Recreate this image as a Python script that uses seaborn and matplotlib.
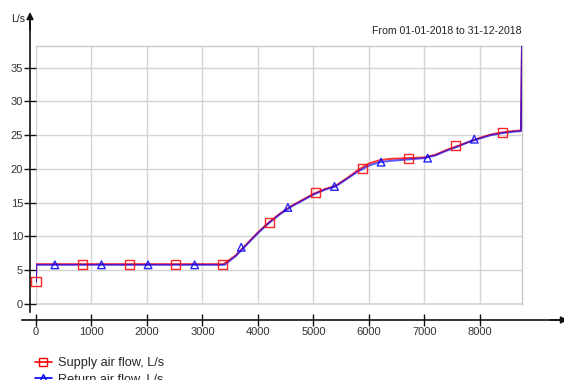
import matplotlib
matplotlib.use("Agg")
import matplotlib.pyplot as plt
import seaborn as sns
import pandas as pd
from matplotlib.lines import Line2D

# ---- data (duration curves, hours sorted) ----
supply_hours = [0, 5, 3380, 3600, 3800, 4000, 4200, 4400, 4600, 4800, 5000, 5200, 5400,
                5600, 5800, 6000, 6200, 6400, 6700, 7000, 7200, 7400, 7600, 7800, 8000,
                8200, 8400, 8600, 8740, 8745, 8760]
supply_flow = [3.3, 5.9, 5.9, 7.2, 8.9, 10.6, 12.1, 13.4, 14.5, 15.4, 16.3, 17.0, 17.5,
               18.6, 19.8, 20.8, 21.3, 21.5, 21.6, 21.7, 22.1, 22.8, 23.4, 24.0, 24.6,
               25.1, 25.4, 25.6, 25.7, 28.4, 38.5]
return_hours = [0, 5, 3400, 3600, 3800, 4000, 4200, 4400, 4600, 4800, 5000, 5200, 5400,
                5600, 5800, 6000, 6200, 6400, 6700, 7000, 7200, 7400, 7600, 7800, 8000,
                8200, 8400, 8600, 8740, 8760]
return_flow = [3.3, 5.8, 5.8, 7.1, 8.8, 10.5, 12.0, 13.3, 14.4, 15.3, 16.2, 16.9, 17.4,
               18.5, 19.6, 20.5, 21.0, 21.2, 21.4, 21.6, 22.0, 22.7, 23.3, 24.0, 24.5,
               25.0, 25.3, 25.5, 25.6, 38.5]
supply_marker_hours = [0, 840, 1680, 2520, 3360, 4200, 5040, 5880, 6720, 7560, 8400]
supply_marker_flow = [3.3, 5.9, 5.9, 5.9, 5.9, 12.0, 16.5, 20.1, 21.6, 23.4, 25.4]
return_marker_hours = [340, 1180, 2020, 2860, 3700, 4540, 5380, 6220, 7060, 7900]
return_marker_flow = [5.8, 5.8, 5.8, 5.8, 8.4, 14.3, 17.4, 21.0, 21.6, 24.4]

x_ticks = [0, 1000, 2000, 3000, 4000, 5000, 6000, 7000, 8000]
y_ticks = [0, 5, 10, 15, 20, 25, 30, 35]
series_labels = ["Supply air flow, L/s", "Return air flow, L/s"]
unit_label = "L/s"
period_label = "From 01-01-2018 to 31-12-2018"

RED = "#ff0000"
BLUE = "#0000ff"

sns.set_style("white")
plt.rcParams["font.family"] = ["Liberation Sans", "DejaVu Sans"]

W, H = 564, 380
fig = plt.figure(figsize=(W / 100, H / 100), dpi=100)
ax = fig.add_axes([36 / W, 1 - 304 / H, (522 - 36) / W, (304 - 46) / H])

sup = pd.DataFrame({"h": supply_hours, "v": supply_flow})
ret = pd.DataFrame({"h": return_hours, "v": return_flow})
supm = pd.DataFrame({"h": supply_marker_hours, "v": supply_marker_flow})
retm = pd.DataFrame({"h": return_marker_hours, "v": return_marker_flow})

sns.lineplot(data=sup, x="h", y="v", ax=ax, color=RED, lw=1.4, alpha=0.8,
             sort=False, estimator=None, zorder=3)
sns.lineplot(data=ret, x="h", y="v", ax=ax, color=BLUE, lw=1.4, alpha=0.65,
             sort=False, estimator=None, zorder=4)
sns.scatterplot(data=supm, x="h", y="v", ax=ax, marker="s", s=42, facecolor="none",
                edgecolor=RED, linewidth=1.0, alpha=0.85, zorder=5, clip_on=False)
sns.scatterplot(data=retm, x="h", y="v", ax=ax, marker="^", s=30, facecolor="none",
                edgecolor=BLUE, linewidth=1.0, alpha=0.85, zorder=5, clip_on=False)

ax.set_xlim(0, 8760)
ax.set_ylim(0, 38.2)
ax.set_xticks(x_ticks)
ax.set_yticks(y_ticks)
ax.set_xlabel("")
ax.set_ylabel("")
ax.grid(True, color="#d4d4d4", lw=1.0)
ax.set_axisbelow(True)
ax.axhline(0, color="#d4d4d4", lw=1.2, clip_on=False, zorder=0.5)

for s in ["top", "right"]:
    ax.spines[s].set_color("#c8c8c8")
    ax.spines[s].set_linewidth(1.0)
ax.spines["left"].set_position(("outward", 4.3))
ax.spines["left"].set_color("#111111")
ax.spines["left"].set_linewidth(1.2)
ax.spines["left"].set_bounds(-1.2, 42)
ax.spines["bottom"].set_position(("outward", 11.5))
ax.spines["bottom"].set_color("#111111")
ax.spines["bottom"].set_linewidth(1.2)
ax.spines["bottom"].set_bounds(-260, 9600)

ax.tick_params(axis="y", left=True, direction="inout", length=8, width=1.0,
               color="#111111", labelsize=8, labelcolor="#333333", pad=1)
ax.tick_params(axis="x", bottom=True, direction="inout", length=8.5, width=1.0,
               color="#111111", labelsize=8, labelcolor="#333333", pad=1)

# axis arrows
ax.annotate("", xy=(30 / W, 1 - 12 / H), xytext=(30 / W, 1 - 30 / H),
            xycoords="figure fraction", textcoords="figure fraction",
            arrowprops=dict(arrowstyle="-|>", color="#111111", lw=1.2,
                            mutation_scale=10, shrinkA=0, shrinkB=0))
ax.annotate("", xy=(568 / W, 1 - 320 / H), xytext=(550 / W, 1 - 320 / H),
            xycoords="figure fraction", textcoords="figure fraction",
            arrowprops=dict(arrowstyle="-|>", color="#111111", lw=1.2,
                            mutation_scale=10, shrinkA=0, shrinkB=0))

fig.text(25 / W, 1 - 19 / H, unit_label, ha="right", va="center", fontsize=7.6,
         color="#222222")
fig.text(522 / W, 1 - 31 / H, period_label, ha="right", va="center", fontsize=7.6,
         color="#222222")

handles = [
    Line2D([], [], color=RED, lw=1.2, marker="s", markersize=6,
           markerfacecolor="none", markeredgecolor=RED),
    Line2D([], [], color=BLUE, lw=1.2, marker="^", markersize=5.5,
           markerfacecolor="none", markeredgecolor=BLUE),
]
fig.legend(handles, series_labels, loc="upper left",
           bbox_to_anchor=(35 / W, 1 - 357 / H), frameon=False, fontsize=9.2,
           handlelength=1.3, handletextpad=0.5, labelspacing=0.35, borderpad=0,
           borderaxespad=0)

fig.savefig("out.png", dpi=100)
